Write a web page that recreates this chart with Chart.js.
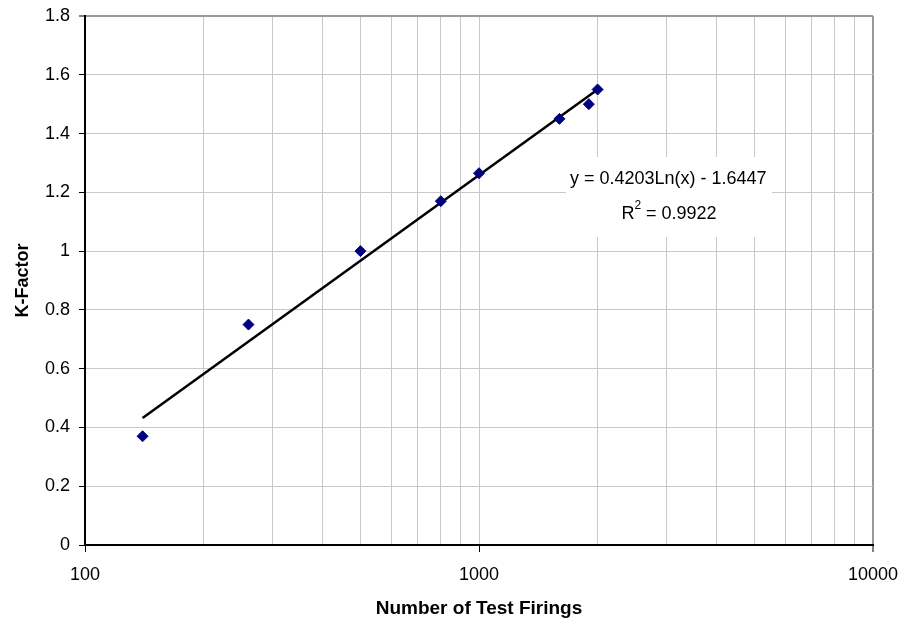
<!DOCTYPE html>
<html>
<head>
<meta charset="utf-8">
<script src="https://cdn.jsdelivr.net/npm/chart.js@4/dist/chart.umd.min.js"></script>
<style>
  html, body { margin: 0; padding: 0; background: #ffffff; }
  #wrap { width: 901px; height: 621px; }
</style>
</head>
<body>
<div id="wrap"><canvas id="c" width="901" height="621"></canvas></div>
<script>
// Data
const firings = [140, 260, 500, 800, 1000, 1600, 1900, 2000];
const kFactor = [0.37, 0.75, 1.00, 1.17, 1.265, 1.45, 1.50, 1.55];
// Logarithmic trendline end points (straight on a log x axis)
const trendX = [140, 2000];
const trendY = [0.432, 1.550];
const yTicks = [0, 0.2, 0.4, 0.6, 0.8, 1, 1.2, 1.4, 1.6, 1.8];
const xMajor = [100, 1000, 10000];
const equationText = 'y = 0.4203Ln(x) - 1.6447';
const rSquaredText = '0.9922';

const FONT = "'Liberation Sans', Arial, sans-serif";

const equationPlugin = {
  id: 'equation',
  beforeDatasetsDraw(chart) {
    const ctx = chart.ctx;
    ctx.save();
    ctx.fillStyle = '#ffffff';
    ctx.fillRect(566, 157, 206, 80);
    ctx.fillStyle = '#000000';
    ctx.font = '18px ' + FONT;
    ctx.textBaseline = 'middle';
    ctx.textAlign = 'left';
    ctx.fillText(equationText, 570, 179);
    // R² line
    const rW = ctx.measureText('R').width;
    ctx.font = '12px ' + FONT;
    const sW = ctx.measureText('2').width;
    ctx.font = '18px ' + FONT;
    const restW = ctx.measureText(' = ' + rSquaredText).width;
    const total = rW + sW + restW;
    let x0 = 669 - total / 2;
    ctx.fillText('R', x0, 214);
    ctx.font = '12px ' + FONT;
    ctx.fillText('2', x0 + rW, 206);
    ctx.font = '18px ' + FONT;
    ctx.fillText(' = ' + rSquaredText, x0 + rW + sW, 214);
    ctx.restore();
  }
};

new Chart(document.getElementById('c'), {
  type: 'scatter',
  data: {
    datasets: [
      {
        label: 'Trend',
        type: 'line',
        data: trendX.map((x, i) => ({ x: x, y: trendY[i] })),
        borderColor: '#000000',
        borderWidth: 2.5,
        pointRadius: 0,
        fill: false,
        order: 2
      },
      {
        label: 'K-Factor',
        data: firings.map((x, i) => ({ x: x, y: kFactor[i] })),
        pointStyle: 'rectRot',
        pointRadius: 5.5,
        pointHoverRadius: 5.5,
        backgroundColor: '#000080',
        borderColor: '#000080',
        borderWidth: 1,
        order: 1
      }
    ]
  },
  options: {
    responsive: false,
    animation: false,
    events: [],
    layout: { padding: { left: 0, top: 16, right: 28, bottom: 0 } },
    plugins: {
      legend: { display: false },
      tooltip: { enabled: false }
    },
    scales: {
      x: {
        type: 'logarithmic',
        min: 100,
        max: 10000,
        afterFit(scale) {
          scale.height = 76;
          scale.paddingLeft = 0;
          scale.paddingRight = 0;
        },
        afterBuildTicks(scale) {
          const t = [];
          for (let d = 100; d < 10000; d *= 10) {
            for (let m = 1; m < 10; m++) t.push({ value: d * m });
          }
          t.push({ value: 10000 });
          scale.ticks = t;
        },
        ticks: {
          autoSkip: false,
          maxRotation: 0,
          minRotation: 0,
          padding: 12,
          color: '#000000',
          font: { family: FONT, size: 18 },
          callback(v) { return xMajor.includes(v) ? String(v) : ''; }
        },
        grid: {
          color(ctx) {
            const v = ctx.tick && ctx.tick.value;
            return v === 10000 ? '#999999' : '#c8c8c8';
          },
          lineWidth(ctx) {
            const v = ctx.tick && ctx.tick.value;
            return v === 10000 ? 2 : 1;
          },
          tickLength: 7,
          tickColor(ctx) {
            const v = ctx.tick && ctx.tick.value;
            return xMajor.includes(v) ? '#000000' : 'rgba(0,0,0,0)';
          },
          tickWidth: 1
        },
        border: { display: true, color: '#000000', width: 2 },
        title: {
          display: true,
          text: 'Number of Test Firings',
          color: '#000000',
          font: { family: FONT, size: 19, weight: 'bold' },
          padding: { top: 0, bottom: 1 }
        }
      },
      y: {
        min: 0,
        max: 1.8,
        afterFit(scale) {
          scale.width = 85;
          scale.paddingTop = 0;
          scale.paddingBottom = 0;
        },
        afterBuildTicks(scale) {
          scale.ticks = yTicks.map(v => ({ value: v }));
        },
        ticks: {
          padding: 9,
          color: '#000000',
          font: { family: FONT, size: 18 },
          callback(v) { return String(v); }
        },
        grid: {
          color(ctx) {
            const v = ctx.tick && ctx.tick.value;
            return v === 1.8 ? '#999999' : '#c8c8c8';
          },
          lineWidth(ctx) {
            const v = ctx.tick && ctx.tick.value;
            return v === 1.8 ? 2 : 1;
          },
          tickLength: 6,
          tickColor: '#000000',
          tickWidth: 1
        },
        border: { display: true, color: '#000000', width: 2 },
        title: {
          display: true,
          text: 'K-Factor',
          color: '#000000',
          font: { family: FONT, size: 18, weight: 'bold' },
          padding: { top: 12, bottom: 0 }
        }
      }
    }
  },
  plugins: [equationPlugin]
});
</script>
</body>
</html>
